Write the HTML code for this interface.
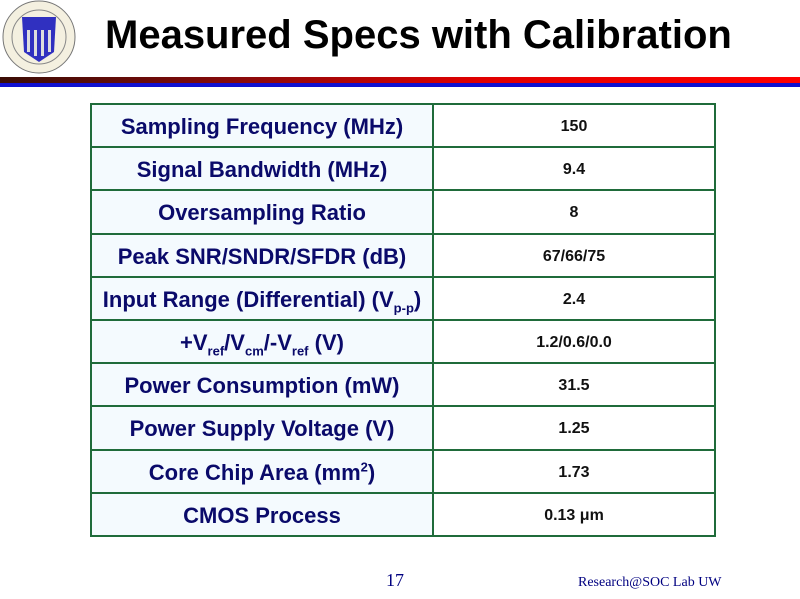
<!DOCTYPE html>
<html><head><style>
body{margin:0;width:800px;height:599px;background:#fff;position:relative;overflow:hidden;font-family:"Liberation Sans",sans-serif}
.title{position:absolute;left:105px;top:13px;font-size:40px;font-weight:bold;color:#000;letter-spacing:0px;white-space:nowrap}
.bar1{position:absolute;left:0;top:77px;width:800px;height:6px;background:linear-gradient(90deg,#3a0d05,#8a0a0a 30%,#e00000 60%,#ff0000)}
.bar2{position:absolute;left:0;top:83px;width:800px;height:4px;background:#1010d0}
table{position:absolute;left:90px;top:103px;border-collapse:collapse;width:626px;table-layout:fixed}
td{border:2px solid #1f6b3a;height:38.2px;padding:3px 0 0 0;text-align:center;font-weight:bold;line-height:20px;overflow:hidden}
td.l{width:340px;background:#f4fafe;color:#0a0a6a;font-size:22px}
td.r{color:#111;font-size:16px}
sub,sup{font-size:13px;line-height:0}
.pg{position:absolute;left:386px;top:570px;font-family:"Liberation Serif",serif;font-size:18px;color:#000080}
.ft{position:absolute;left:578px;top:575px;font-family:"Liberation Serif",serif;font-size:14px;color:#000080}
</style></head><body>
<svg style="position:absolute;left:0;top:0" width="80" height="76">
<circle cx="39" cy="37" r="36" fill="#f4f0e0" stroke="#777" stroke-width="1"/>
<circle cx="39" cy="37" r="27" fill="none" stroke="#888" stroke-width="1"/>
<path d="M22 17 L56 17 L54 52 L39 62 L24 52 Z" fill="#3030c0"/>
<rect x="27" y="30" width="3" height="22" fill="#ddd"/><rect x="34" y="30" width="3" height="26" fill="#ddd"/><rect x="41" y="30" width="3" height="26" fill="#ddd"/><rect x="48" y="30" width="3" height="22" fill="#ddd"/>
</svg>
<div class="title">Measured Specs with Calibration</div>
<div class="bar1"></div><div class="bar2"></div>
<table>
<tr><td class="l">Sampling Frequency (MHz)</td><td class="r">150</td></tr>
<tr><td class="l">Signal Bandwidth (MHz)</td><td class="r">9.4</td></tr>
<tr><td class="l">Oversampling Ratio</td><td class="r">8</td></tr>
<tr><td class="l">Peak SNR/SNDR/SFDR (dB)</td><td class="r">67/66/75</td></tr>
<tr><td class="l">Input Range (Differential) (V<sub>p-p</sub>)</td><td class="r">2.4</td></tr>
<tr><td class="l">+V<sub>ref</sub>/V<sub>cm</sub>/-V<sub>ref</sub> (V)</td><td class="r">1.2/0.6/0.0</td></tr>
<tr><td class="l">Power Consumption (mW)</td><td class="r">31.5</td></tr>
<tr><td class="l">Power Supply Voltage (V)</td><td class="r">1.25</td></tr>
<tr><td class="l">Core Chip Area (mm<sup>2</sup>)</td><td class="r">1.73</td></tr>
<tr><td class="l">CMOS Process</td><td class="r">0.13 μm</td></tr>
</table>
<div class="pg">17</div>
<div class="ft">Research@SOC Lab UW</div>
</body></html>
